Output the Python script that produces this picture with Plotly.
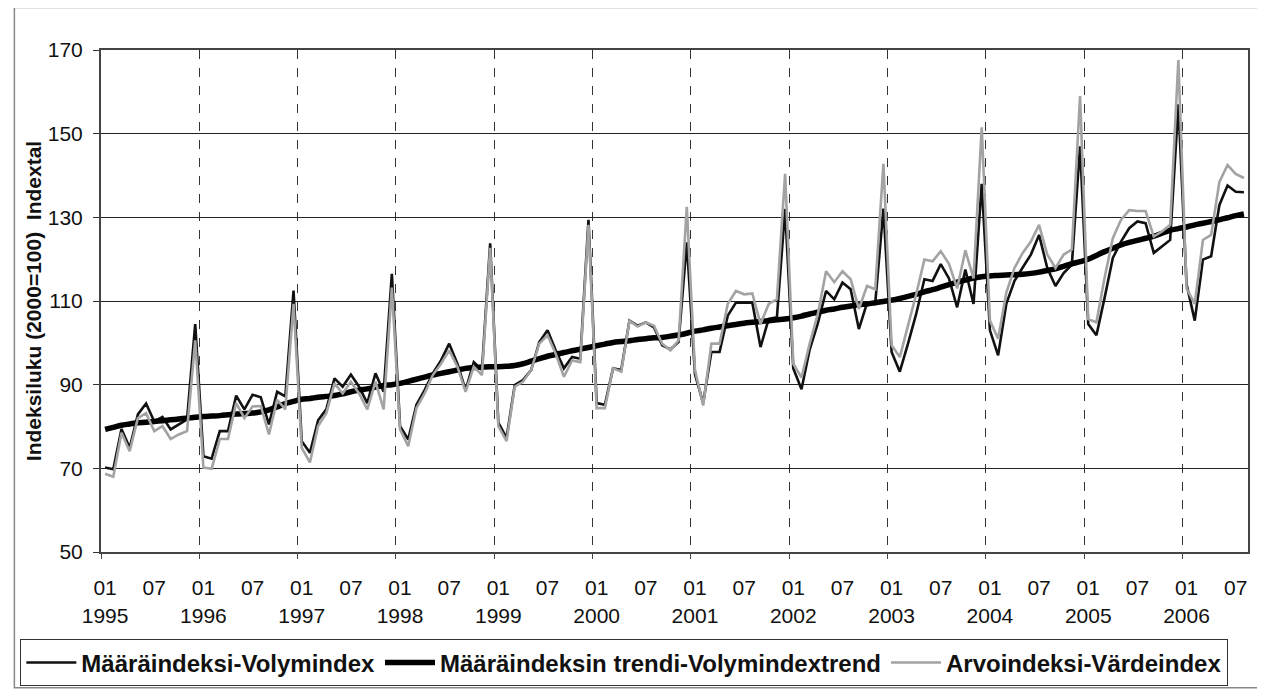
import plotly.graph_objects as go

# ---- data (monthly, Jan 1995 - Aug 2006) ----
years = [1995, 1996, 1997, 1998, 1999, 2000, 2001, 2002, 2003, 2004, 2005, 2006]

volume = [
    70.2, 69.8, 79.4, 74.9, 82.9, 85.5, 81.2, 82.3, 79.3, 80.5, 81.7, 104.5,   # 1995
    72.9, 72.3, 78.9, 78.9, 87.4, 84.1, 87.6, 87.0, 80.5, 88.3, 87.2, 112.5,   # 1996
    76.5, 73.7, 81.5, 84.1, 91.5, 89.5, 92.4, 89.5, 85.6, 92.7, 88.3, 116.5,   # 1997
    80.1, 76.9, 85.2, 88.7, 92.7, 95.8, 99.8, 95.0, 88.7, 95.4, 93.5, 123.8,   # 1998
    80.9, 77.3, 89.9, 91.1, 93.5, 100.2, 103.0, 98.2, 93.9, 96.6, 96.2, 129.4, # 1999
    85.6, 85.2, 93.9, 93.5, 105.3, 104.1, 104.9, 103.7, 99.4, 98.4, 100.2, 124.0,  # 2000
    92.5, 85.6, 97.8, 97.8, 106.5, 109.6, 109.6, 109.6, 99.0, 105.7, 106.1, 132.0, # 2001
    93.9, 88.9, 98.4, 104.7, 112.4, 110.4, 114.4, 112.8, 103.3, 109.5, 109.5, 132.1, # 2002
    97.8, 93.1, 99.8, 106.9, 115.2, 114.8, 118.8, 115.4, 108.5, 117.5, 109.3, 138.0, # 2003
    103.0, 97.0, 109.3, 114.8, 118.0, 121.1, 125.8, 117.9, 113.6, 116.7, 118.7, 147.0, # 2004
    104.5, 101.8, 110.8, 120.3, 124.2, 127.4, 129.0, 128.6, 121.5, 123.1, 124.6, 157.0, # 2005
    114.0, 105.3, 119.9, 120.7, 132.9, 137.6, 136.1, 136.0,                   # 2006
]

trend = [
    79.3, 79.8, 80.3, 80.6, 80.9, 81.0, 81.2, 81.4, 81.6, 81.8, 82.0, 82.2,
    82.4, 82.5, 82.6, 82.8, 83.0, 83.1, 83.2, 83.5, 84.0, 84.7, 85.5, 86.0,
    86.5, 86.7, 87.0, 87.2, 87.4, 87.8, 88.3, 88.7, 89.0, 89.4, 89.8, 90.0,
    90.3, 90.8, 91.3, 91.8, 92.3, 92.7, 93.1, 93.5, 93.9, 94.1, 94.2, 94.3,
    94.3, 94.4, 94.6, 95.0, 95.6, 96.2, 96.8, 97.2, 97.7, 98.1, 98.5, 98.9,
    99.3, 99.7, 100.1, 100.3, 100.5, 100.8, 101.0, 101.2, 101.3, 101.6, 101.9, 102.3,
    102.8, 103.1, 103.5, 103.8, 104.1, 104.4, 104.7, 104.9, 105.1, 105.3, 105.5, 105.7,
    106.0, 106.4, 106.9, 107.3, 107.8, 108.1, 108.5, 108.8, 109.1, 109.3, 109.6, 109.9,
    110.2, 110.6, 111.1, 111.6, 112.2, 112.7, 113.3, 113.9, 114.5, 115.0, 115.5, 115.8,
    116.0, 116.1, 116.2, 116.3, 116.4, 116.6, 116.9, 117.3, 117.7, 118.3, 118.9, 119.4,
    120.0, 120.9, 121.8, 122.6, 123.4, 124.0, 124.5, 125.0, 125.5, 126.2, 126.9, 127.3,
    127.7, 128.2, 128.6, 129.0, 129.4, 129.9, 130.4, 130.8,
]

value = [
    68.7, 68.0, 78.5, 74.1, 82.0, 83.2, 78.9, 80.1, 77.0, 78.1, 78.9, 100.6,
    70.2, 69.9, 77.0, 77.0, 85.6, 82.0, 84.8, 84.9, 78.1, 86.4, 84.1, 109.3,
    74.9, 71.4, 80.1, 83.2, 90.3, 87.9, 90.7, 87.9, 84.1, 90.7, 84.1, 113.2,
    79.3, 75.3, 84.4, 87.9, 92.3, 95.0, 98.2, 94.3, 88.3, 94.3, 92.3, 122.7,
    80.1, 76.5, 89.5, 90.7, 93.5, 99.8, 101.8, 97.4, 91.9, 95.8, 95.4, 128.2,
    84.4, 84.4, 93.9, 93.1, 105.3, 103.9, 104.9, 104.1, 99.8, 98.2, 100.6, 132.5,
    93.5, 85.0, 99.8, 99.8, 109.3, 112.4, 111.6, 111.8, 104.5, 109.3, 110.4, 140.4,
    95.0, 91.7, 99.8, 106.9, 117.1, 114.5, 117.1, 115.2, 108.1, 113.6, 112.8, 142.8,
    99.4, 96.6, 104.1, 111.6, 119.9, 119.5, 121.9, 118.9, 113.0, 122.1, 115.4, 151.5,
    105.3, 101.0, 112.0, 117.9, 121.5, 124.2, 128.2, 121.1, 117.9, 121.1, 122.3, 159.0,
    105.7, 104.9, 115.6, 125.0, 129.4, 131.7, 131.5, 131.5, 125.4, 126.6, 128.2, 167.6,
    113.0, 109.3, 124.6, 125.8, 138.4, 142.5, 140.4, 139.4,
]

tick_labels = [
    "01<br>1995", "07", "01<br>1996", "07", "01<br>1997", "07", "01<br>1998", "07",
    "01<br>1999", "07", "01<br>2000", "07", "01<br>2001", "07", "01<br>2002", "07",
    "01<br>2003", "07", "01<br>2004", "07", "01<br>2005", "07", "01<br>2006", "07",
]

series_names = [
    "Määräindeksi-Volymindex",
    "Määräindeksin trendi-Volymindextrend",
    "Arvoindeksi-Värdeindex",
]

# ---- build ----
n = len(volume)
x = list(range(n))
tick_positions = list(range(0, n, 6))

FONT = "Liberation Sans, Arial, sans-serif"

# page body has an 8px margin: figure is sized/positioned to compensate
W, H = 1257, 690
ML, MR, MT, MB = 88, 17, 42, 141
PW, PH = W - ML - MR, H - MT - MB


def px_x(px):   # page x pixel -> paper fraction
    return (px - 8 - ML) / PW


def px_y(py):   # page y pixel -> paper fraction
    return 1 - (py - 8 - MT) / PH


fig = go.Figure()
fig.add_trace(go.Scatter(x=x, y=volume, mode="lines", name=series_names[0],
                         line=dict(color="#111111", width=2.6)))
fig.add_trace(go.Scatter(x=x, y=trend, mode="lines", name=series_names[1],
                         line=dict(color="#000000", width=5.5, shape="spline")))
fig.add_trace(go.Scatter(x=x, y=value, mode="lines", name=series_names[2],
                         line=dict(color="#a3a3a3", width=2.6)))

fig.update_layout(
    width=W, height=H, autosize=False,
    paper_bgcolor="white", plot_bgcolor="white",
    margin=dict(l=ML, r=MR, t=MT, b=MB),
    font=dict(family=FONT, color="#111111"),
    showlegend=True,
    legend=dict(
        orientation="h", x=px_x(15), xanchor="left",
        y=px_y(669), yanchor="middle",
        font=dict(size=24, family=FONT, color="#111111", weight="bold"),
        bordercolor="#333333", borderwidth=1, bgcolor="white",
        itemwidth=50, traceorder="normal",
    ),
    xaxis=dict(
        range=[-0.5, n - 0.5],
        tickmode="array", tickvals=tick_positions, ticktext=tick_labels,
        ticks="", showgrid=False, zeroline=False,
        tickfont=dict(size=21, family=FONT, color="#111111"),
        ticklabelstandoff=16,
        showline=True, linewidth=2, linecolor="#444444", mirror=True,
        minor=dict(tickmode="linear", tick0=-0.5, dtick=12,
                   showgrid=True, griddash="dash", gridcolor="#333333", gridwidth=1,
                   ticks="outside", ticklen=5, tickcolor="#444444"),
    ),
    yaxis=dict(
        range=[50, 170], tickmode="linear", tick0=50, dtick=20,
        showgrid=True, gridcolor="#222222", gridwidth=1, zeroline=False,
        ticks="outside", ticklen=6, tickcolor="#333333",
        tickfont=dict(size=21, family=FONT, color="#111111"),
        ticklabelstandoff=6,
        showline=True, linewidth=2, linecolor="#444444", mirror=True,
        title=dict(text="Indeksiluku (2000=100)\u00a0\u00a0Indextal",
                   font=dict(size=21, family=FONT, color="#111111", weight="bold"),
                   standoff=0),
    ),
    shapes=[dict(type="rect", xref="paper", yref="paper",
                 x0=px_x(9), x1=px_x(1262), y0=px_y(694), y1=px_y(7),
                 line=dict(color="#888888", width=1.5), fillcolor="rgba(0,0,0,0)",
                 layer="below")],
)

fig.write_html("out.html")
